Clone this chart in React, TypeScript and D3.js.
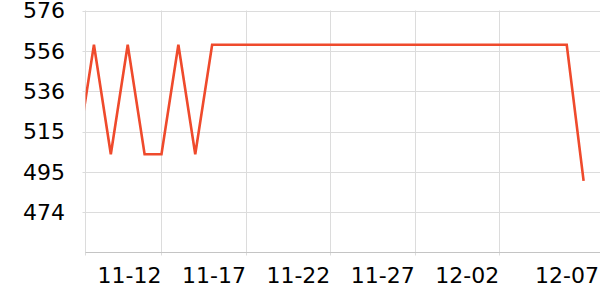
import React from "react";
import * as d3 from "d3";

const dates: string[] = [
  "2023-11-07", "2023-11-08", "2023-11-09", "2023-11-10", "2023-11-11", "2023-11-12",
  "2023-11-13", "2023-11-14", "2023-11-15", "2023-11-16", "2023-11-17", "2023-11-18",
  "2023-11-19", "2023-11-20", "2023-11-21", "2023-11-22", "2023-11-23", "2023-11-24",
  "2023-11-25", "2023-11-26", "2023-11-27", "2023-11-28", "2023-11-29", "2023-11-30",
  "2023-12-01", "2023-12-02", "2023-12-03", "2023-12-04", "2023-12-05", "2023-12-06",
  "2023-12-07",
];

const values: number[] = [
  503.5, 559, 503.5, 559, 503.5, 503.5,
  559, 503.5, 559, 559, 559, 559,
  559, 559, 559, 559, 559, 559,
  559, 559, 559, 559, 559, 559,
  559, 559, 559, 559, 559, 559,
  490,
];

const yTicks: number[] = [474.15, 494.6, 515.05, 535.5, 555.95, 576.4];
const xTickDates: string[] = ["2023-11-12", "2023-11-17", "2023-11-22", "2023-11-27", "2023-12-02", "2023-12-07"];
const xDomain: string[] = ["2023-11-07T12:00:00", "2023-12-08T00:00:00"];
const yDomain: number[] = [453.7, 576.4];

const W = 600;
const H = 300;
const left = 85.5;
const right = 600.5;
const top = 10.5;
const bottom = 252.5;
const FONT = "'DejaVu Sans', sans-serif";

export default function App() {
  const parse = (s: string) => new Date(s.length > 10 ? s : s + "T00:00:00");
  const x = d3.scaleTime().domain(xDomain.map(parse)).range([left, right]);
  const y = d3.scaleLinear().domain(yDomain).range([bottom, top]);
  const fmt = d3.timeFormat("%m-%d");
  const data = dates.map((d, i) => ({ d: parse(d), v: values[i] }));
  const line = d3
    .line<{ d: Date; v: number }>()
    .x((p) => x(p.d))
    .y((p) => y(p.v));
  const lastIdx = xTickDates.length - 1;

  return (
    <svg width={W} height={H} style={{ position: "absolute", left: 0, top: 0 }}>
      <defs>
        <clipPath id="plot">
          <rect x={left} y={0} width={right - left} height={bottom} />
        </clipPath>
      </defs>
      {/* horizontal grid */}
      {yTicks.map((t, i) => (
        <line key={"hg" + i} x1={left - 3} x2={W} y1={Math.round(y(t)) + 0.5} y2={Math.round(y(t)) + 0.5} stroke="#dcdcdc" strokeWidth={1} />
      ))}
      {/* vertical grid */}
      <line x1={left} x2={left} y1={top} y2={bottom + 3} stroke="#dcdcdc" strokeWidth={1} />
      {xTickDates.slice(0, lastIdx).map((t, i) => {
        const xx = Math.round(x(parse(t))) + 0.5;
        return <line key={"vg" + i} x1={xx} x2={xx} y1={top} y2={bottom + 3} stroke="#dcdcdc" strokeWidth={1} />;
      })}
      {/* bottom axis */}
      <line x1={left} x2={W} y1={bottom} y2={bottom} stroke="#c4c4c4" strokeWidth={1} />
      {/* y labels */}
      {yTicks.map((t, i) => (
        <text key={"yl" + i} x={65} y={y(t)} dy="0.36em" textAnchor="end" fontFamily={FONT} fontSize={22} fill="#000">
          {Math.round(t)}
        </text>
      ))}
      {/* x labels */}
      {xTickDates.map((t, i) => (
        <text
          key={"xl" + i}
          x={i === lastIdx ? W - 1 : x(parse(t))}
          y={283}
          textAnchor="end"
          fontFamily={FONT}
          fontSize={22}
          fill="#000"
        >
          {fmt(parse(t))}
        </text>
      ))}
      <path d={line(data) || ""} fill="none" stroke="#ef4a2c" strokeWidth={2.6} strokeLinejoin="miter" clipPath="url(#plot)" />
    </svg>
  );
}
